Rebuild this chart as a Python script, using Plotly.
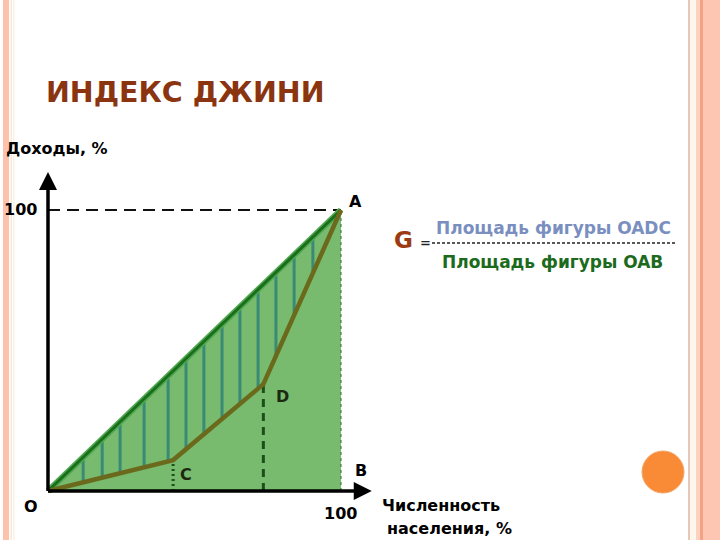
import numpy as np
import plotly.graph_objects as go

# ---- data ----
equality_x = [0, 100]
equality_y = [0, 100]
lorenz_x = [0, 42.7, 73.5, 100]
lorenz_y = [0, 11, 38, 100]
point_labels = ["O", "A", "B", "C", "D"]
hatch_x = [12, 18.5, 24.6, 32.8, 41, 47.1, 53.2, 59.4, 65.5, 71.7, 77.8, 84, 90.4]
tick_label = "100"

W, H = 720, 540
# pixel mapping of the drawing area (x: 0->48px, 100->341px; y: 0->491px, 100->210px)
X0, XS = 48, 2.93
Y0, YS = 491, 2.81


def px(x):
    return x / W


def py(y):
    return 1 - y / H


fig = go.Figure()

# green triangle OAB
fig.add_trace(go.Scatter(x=[0, 100, 100, 0], y=[0, 100, 0, 0], fill="toself",
                         fillcolor="#78ba6e", line=dict(width=0), mode="lines",
                         hoverinfo="skip", showlegend=False))

# hatching between equality line and Lorenz curve
hx, hy = [], []
for xv in hatch_x:
    top = np.interp(xv, equality_x, equality_y) - 0.8
    bot = np.interp(xv, lorenz_x, lorenz_y)
    hx += [xv, xv, None]
    hy += [top, bot, None]
fig.add_trace(go.Scatter(x=hx, y=hy, mode="lines", line=dict(color="#3a8b76", width=3),
                         hoverinfo="skip", showlegend=False))

# right edge AB (thin dotted)
fig.add_trace(go.Scatter(x=[100, 100], y=[0, 100], mode="lines",
                         line=dict(color="#2f6a2f", width=1, dash="dot"),
                         hoverinfo="skip", showlegend=False))

# dashed verticals at C and D
fig.add_trace(go.Scatter(x=[lorenz_x[2], lorenz_x[2]], y=[0, lorenz_y[2]], mode="lines",
                         line=dict(color="#1d4f1d", width=3, dash="8px,6px"),
                         hoverinfo="skip", showlegend=False))
fig.add_trace(go.Scatter(x=[lorenz_x[1], lorenz_x[1]], y=[0, lorenz_y[1]], mode="lines",
                         line=dict(color="#1d4f1d", width=3, dash="2px,3px"),
                         hoverinfo="skip", showlegend=False))

# dashed horizontal at 100
fig.add_trace(go.Scatter(x=[0, 100], y=[100, 100], mode="lines",
                         line=dict(color="#111111", width=2, dash="12px,7px"),
                         hoverinfo="skip", showlegend=False))

# equality line OA
fig.add_trace(go.Scatter(x=equality_x, y=equality_y, mode="lines",
                         line=dict(color="#4fa84f", width=6),
                         hoverinfo="skip", showlegend=False))
fig.add_trace(go.Scatter(x=equality_x, y=equality_y, mode="lines",
                         line=dict(color="#1b6e1b", width=3),
                         hoverinfo="skip", showlegend=False))

# Lorenz curve OCDA
fig.add_trace(go.Scatter(x=lorenz_x, y=lorenz_y, mode="lines",
                         line=dict(color="#6b6a1c", width=4.5),
                         hoverinfo="skip", showlegend=False))

# axes
fig.add_trace(go.Scatter(x=[0, 106], y=[0, 0], mode="lines",
                         line=dict(color="black", width=3.5),
                         hoverinfo="skip", showlegend=False))
fig.add_trace(go.Scatter(x=[0, 0], y=[0, 110], mode="lines",
                         line=dict(color="black", width=3.5),
                         hoverinfo="skip", showlegend=False))

annotations = []
# arrowheads
annotations.append(dict(x=110.5, y=0, ax=104, ay=0, xref="x", yref="y", axref="x", ayref="y",
                        showarrow=True, arrowhead=2, arrowsize=1.2, arrowwidth=3,
                        arrowcolor="black", text=""))
annotations.append(dict(x=0, y=113.5, ax=0, ay=107, xref="x", yref="y", axref="x", ayref="y",
                        showarrow=True, arrowhead=2, arrowsize=1.2, arrowwidth=3,
                        arrowcolor="black", text=""))

lab_font = dict(family="DejaVu Sans", size=16, color="black")
dark_font = dict(family="DejaVu Sans", size=16, color="#1a2a10")


def lab(text, x, y, font, xanchor="center", yanchor="middle"):
    annotations.append(dict(text=text, x=px(x), y=py(y), xref="paper", yref="paper",
                            showarrow=False, font=font, xanchor=xanchor, yanchor=yanchor))


# point labels
lab("<b>A</b>", 355, 201, lab_font)
lab("<b>B</b>", 361, 470, lab_font)
lab("<b>C</b>", 186, 474, dark_font)
lab("<b>D</b>", 282, 396, dark_font)
lab("<b>O</b>", 31, 506, lab_font)
lab("<b>" + tick_label + "</b>", 20, 210, lab_font)
lab("<b>" + tick_label + "</b>", 340, 513, lab_font)
lab("<b>Доходы, %</b>", 4, 148, lab_font, xanchor="left")
lab("<b>Численность</b>", 380, 505, lab_font, xanchor="left")
lab("<b>населения, %</b>", 385, 528, lab_font, xanchor="left")

# title
lab("<b>ИНДЕКС ДЖИНИ</b>", 44, 92, dict(family="DejaVu Sans", size=28.5, color="#8a3510"),
    xanchor="left")

# formula
lab("<b>G</b>", 403, 240, dict(family="DejaVu Sans", size=23, color="#9c3a12"))
lab("<b>=</b>", 425, 243, dict(family="DejaVu Sans", size=13, color="#222222"))
lab("<b>Площадь фигуры OADC</b>", 553, 228, dict(family="DejaVu Sans", size=17, color="#7a8fbf"))
lab("<b>Площадь фигуры OAB</b>", 552, 262, dict(family="DejaVu Sans", size=17, color="#1c6a1c"))

# decorative border stripes, fraction bar and circle
shapes = []


def rect(x0, x1, color):
    shapes.append(dict(type="rect", xref="paper", yref="paper", x0=px(x0), x1=px(x1),
                       y0=0, y1=1, fillcolor=color, line=dict(width=0), layer="below"))


rect(3, 9, "#fcc2ab")
rect(10.5, 12, "#fde6dc")
rect(13, 14.5, "#fbf2df")
rect(688, 690, "#e6c8b8")
rect(690, 696, "#fdf6ec")
rect(696, 700, "#fcd2c0")
rect(700, 703, "#f5a184")
rect(703, 720, "#fdc6b2")
shapes.append(dict(type="line", xref="paper", yref="paper", x0=px(432), x1=px(676),
                   y0=py(243), y1=py(243), line=dict(color="#222222", width=1.5, dash="3px,2px")))
shapes.append(dict(type="circle", xref="paper", yref="paper", x0=px(642), x1=px(684),
                   y0=py(493), y1=py(451), fillcolor="#f98b36",
                   line=dict(color="#f3a66a", width=1)))

fig.update_layout(
    width=W, height=H, margin=dict(l=0, r=0, t=0, b=0),
    paper_bgcolor="white", plot_bgcolor="white",
    xaxis=dict(range=[-X0 / XS, (W - X0) / XS], visible=False, fixedrange=True),
    yaxis=dict(range=[(Y0 - H) / YS, Y0 / YS], visible=False, fixedrange=True),
    annotations=annotations, shapes=shapes, showlegend=False,
)

fig.write_html("out.html", config={"displayModeBar": False},
               post_script="document.body.style.margin='0px';")
